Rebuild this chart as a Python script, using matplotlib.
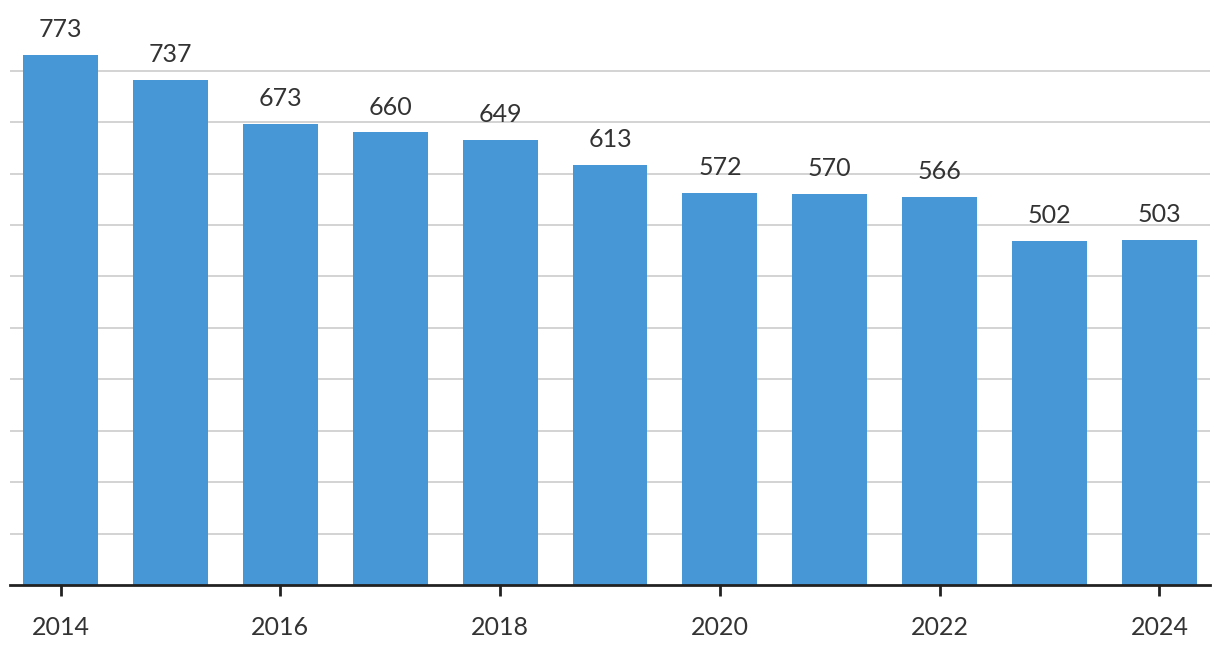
import numpy as np
import matplotlib.pyplot as plt

years = [2014, 2015, 2016, 2017, 2018, 2019, 2020, 2021, 2022, 2023, 2024]
values = [773, 737, 673, 660, 649, 613, 572, 570, 566, 502, 503]
tick_years = [2014, 2016, 2018, 2020, 2022, 2024]

plt.rcParams['font.family'] = ['Lato', 'DejaVu Sans']

fig = plt.figure(figsize=(12.2, 6.62), dpi=100)
ax = fig.add_axes([10/1220, 77/662, 1200/1220, 530/662])

x = np.arange(len(years))
ax.bar(x, values, width=0.682, color='#4797d6', zorder=2)

for xi, v in zip(x, values):
    ax.annotate(str(v), (xi, v), xytext=(0, 10), textcoords='offset points',
                ha='center', va='bottom', fontsize=18, color='#333333',
                annotation_clip=False)

ax.set_xlim(-0.46, 10.46)
ax.set_ylim(0, 773)
ax.set_yticks(np.arange(75, 751, 75))
ax.yaxis.grid(True, color='#d0d0d0', linewidth=1.3, zorder=0)
ax.set_axisbelow(True)
ax.tick_params(axis='y', left=False, labelleft=False)

ax.set_xticks([years.index(y) for y in tick_years])
ax.set_xticklabels([str(y) for y in tick_years])
ax.tick_params(axis='x', length=8, width=2, color='#222222', pad=14,
               labelsize=18, labelcolor='#333333')

for s in ['top', 'right', 'left']:
    ax.spines[s].set_visible(False)
ax.spines['bottom'].set_linewidth(2)
ax.spines['bottom'].set_color('#222222')
ax.spines['bottom'].set_zorder(3)

fig.savefig('out.png', dpi=100)
